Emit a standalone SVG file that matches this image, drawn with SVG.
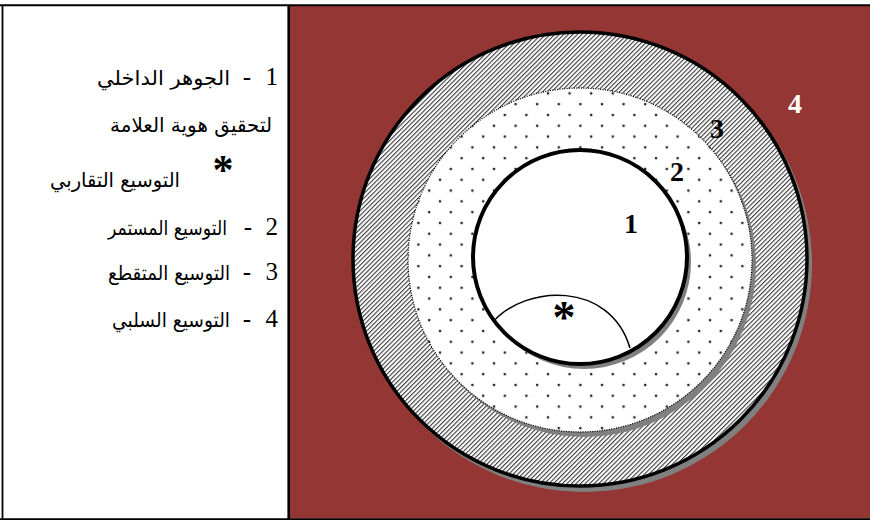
<svg xmlns="http://www.w3.org/2000/svg" width="870" height="520" viewBox="0 0 870 520">
<style>
.ar{font-family:"DejaVu Sans",sans-serif;font-size:20px;fill:#000}
.num{font-family:"Liberation Serif",serif;font-size:25px;fill:#000}
.lbl{font-family:"Liberation Serif",serif;font-size:28px;font-weight:bold;fill:#000}
.frame{stroke:#000;fill:none}
.shadow{fill:#808080}
</style>
<defs>
<pattern id="hatch" patternUnits="userSpaceOnUse" width="3.2" height="10" patternTransform="rotate(45)">
<rect width="3.2" height="10" fill="#fff"/>
<rect width="1.1" height="10" fill="#3a3a3a"/>
</pattern>
<pattern id="dots" patternUnits="userSpaceOnUse" x="3" y="2" width="21.6" height="21.6">
<rect width="21.6" height="21.6" fill="#fff"/>
<circle cx="5" cy="5" r="1.3" fill="#222"/>
<circle cx="15.8" cy="15.8" r="1.3" fill="#222"/>
</pattern>
</defs>
<rect x="290" y="6" width="580" height="512.5" fill="#943634"/>
<g id="frame">
<line class="frame" x1="0" y1="5.2" x2="870" y2="5.2" stroke-width="2"/>
<line class="frame" x1="0" y1="519.2" x2="870" y2="519.2" stroke-width="2"/>
<line class="frame" x1="2.5" y1="5" x2="2.5" y2="520" stroke-width="1.8"/>
<line class="frame" x1="288.7" y1="5" x2="288.7" y2="520" stroke-width="2.6"/>
</g>
<g id="ring4">
<circle class="shadow" cx="584" cy="264" r="228"/>
<circle cx="580" cy="259" r="227" fill="url(#hatch)" stroke="#000" stroke-width="3.5"/>
</g>
<g id="ring3">
<circle class="shadow" cx="584" cy="265" r="172"/>
<circle cx="580" cy="260" r="172" fill="url(#dots)" stroke="#000" stroke-width="1.3" stroke-dasharray="1 1.4"/>
</g>
<g id="core1">
<circle class="shadow" cx="584" cy="262" r="107"/>
<circle cx="580" cy="257" r="107" fill="#fff" stroke="#000" stroke-width="4"/>
</g>
<g id="star">
<path d="M493,322 C525,285 610,280 630,348" fill="none" stroke="#000" stroke-width="1.5"/>
<text x="564" y="333" font-family="Liberation Serif,serif" font-size="46" font-weight="bold" text-anchor="middle">*</text>
</g>
<g id="labels">
<text class="lbl" x="631" y="233" text-anchor="middle">1</text>
<text class="lbl" x="677" y="181" text-anchor="middle">2</text>
<text class="lbl" x="717" y="138" text-anchor="middle">3</text>
<text class="lbl" x="795" y="113" text-anchor="middle" style="fill:#fff">4</text>
</g>
<g id="legend">
<text class="num" x="278" y="85" text-anchor="end">1</text>
<text class="num" x="247" y="85" text-anchor="middle">-</text>
<text class="ar" x="97" y="85" textLength="133" lengthAdjust="spacingAndGlyphs">الجوهر  الداخلي</text>
<text class="ar" x="110" y="132" textLength="162" lengthAdjust="spacingAndGlyphs">لتحقيق هوية العلامة</text>
<text x="223" y="184" font-family="Liberation Serif,serif" font-size="42" font-weight="bold" text-anchor="middle">*</text>
<text class="ar" x="50" y="187" textLength="130" lengthAdjust="spacingAndGlyphs">التوسيع التقاربي</text>
<text class="num" x="278" y="235" text-anchor="end">2</text>
<text class="num" x="248" y="235" text-anchor="middle">-</text>
<text class="ar" x="108" y="235" textLength="119" lengthAdjust="spacingAndGlyphs">التوسيع المستمر</text>
<text class="num" x="278" y="280" text-anchor="end">3</text>
<text class="num" x="247" y="280" text-anchor="middle">-</text>
<text class="ar" x="108" y="280" textLength="122" lengthAdjust="spacingAndGlyphs">التوسيع المتقطع</text>
<text class="num" x="278" y="327" text-anchor="end">4</text>
<text class="num" x="247" y="327" text-anchor="middle">-</text>
<text class="ar" x="112" y="327" textLength="118" lengthAdjust="spacingAndGlyphs">التوسيع السلبي</text>
</g>
</svg>
